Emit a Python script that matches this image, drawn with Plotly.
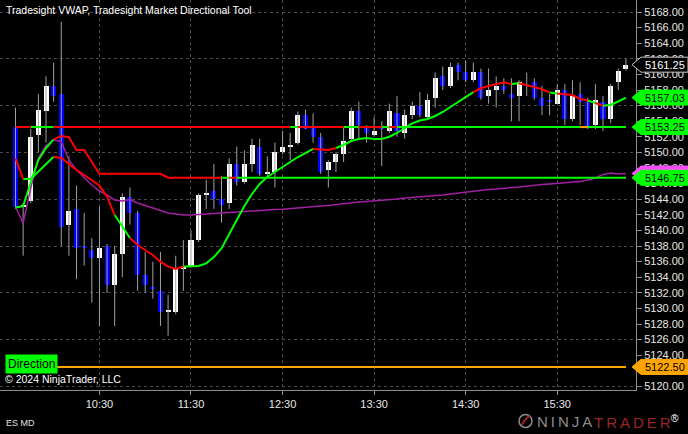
import plotly.graph_objects as go

# ---------------- data (ES 5-minute bars, 09:35 .. 16:15) ----------------
opens = [5153.25, 5143.0, 5143.75, 5152.25, 5155.25, 5158.5, 5157.5, 5140.75, 5142.75, 5138.0,
         5137.5, 5136.5, 5138.0, 5133.0, 5137.0, 5144.25, 5142.25, 5134.25, 5132.75, 5132.25,
         5129.5, 5129.5, 5135.0, 5135.5, 5138.75, 5144.5, 5145.0, 5144.0, 5143.5, 5148.5,
         5146.25, 5148.5, 5150.75, 5147.25, 5147.5, 5150.0, 5150.75, 5151.25, 5154.75, 5153.25,
         5152.0, 5147.75, 5148.75, 5149.75, 5151.75, 5155.25, 5153.25, 5152.25, 5153.25, 5152.75,
         5155.0, 5152.5, 5154.75, 5156.0, 5154.5, 5157.0, 5159.75, 5158.5, 5161.25, 5160.25,
         5159.25, 5160.25, 5157.25, 5158.0, 5158.5, 5157.5, 5157.25, 5158.75, 5159.0, 5157.0,
         5156.75, 5156.25, 5158.0, 5154.25, 5157.5, 5156.5, 5153.5, 5156.5, 5154.25, 5159.0,
         5160.75]
highs = [5155.75, 5143.5, 5153.0, 5157.5, 5159.75, 5161.5, 5166.75, 5149.5, 5145.75, 5142.25,
         5139.0, 5143.0, 5138.25, 5138.0, 5144.75, 5145.5, 5142.5, 5137.25, 5136.0, 5137.25,
         5131.75, 5136.75, 5138.75, 5140.0, 5144.75, 5146.5, 5148.5, 5147.0, 5149.25, 5150.75,
         5150.25, 5151.75, 5151.75, 5149.5, 5151.25, 5152.75, 5152.5, 5155.25, 5155.5, 5155.0,
         5152.5, 5149.0, 5150.0, 5153.25, 5155.75, 5156.5, 5153.5, 5154.5, 5154.0, 5156.25,
         5157.25, 5155.5, 5156.5, 5157.75, 5157.5, 5160.25, 5161.0, 5161.5, 5161.5, 5161.75,
         5161.5, 5160.75, 5160.75, 5159.75, 5159.5, 5159.5, 5159.25, 5160.25, 5159.5, 5158.5,
         5157.5, 5158.75, 5158.75, 5159.25, 5159.0, 5157.0, 5158.75, 5157.25, 5158.75, 5160.75,
         5162.0]
lows = [5142.75, 5136.75, 5143.5, 5150.0, 5151.25, 5156.5, 5138.0, 5136.75, 5133.75, 5135.5,
        5130.75, 5127.75, 5132.0, 5127.75, 5134.0, 5140.75, 5132.25, 5132.0, 5131.25, 5127.75,
        5126.5, 5129.25, 5132.25, 5135.25, 5138.5, 5142.75, 5142.75, 5141.0, 5142.75, 5145.75,
        5146.0, 5147.5, 5147.0, 5146.75, 5145.5, 5149.75, 5149.0, 5151.0, 5153.0, 5151.25,
        5147.25, 5145.5, 5147.5, 5148.75, 5151.5, 5151.75, 5151.25, 5152.0, 5148.25, 5152.5,
        5152.0, 5151.75, 5154.25, 5154.5, 5154.25, 5155.75, 5158.0, 5158.25, 5159.25, 5159.0,
        5159.0, 5156.75, 5156.25, 5155.75, 5157.5, 5154.0, 5154.0, 5157.25, 5156.75, 5154.75,
        5154.75, 5156.25, 5153.5, 5154.0, 5153.5, 5153.0, 5153.0, 5152.75, 5153.75, 5158.0,
        5160.5]
closes = [5143.0, 5143.25, 5152.0, 5155.5, 5158.5, 5157.25, 5140.5, 5142.5, 5137.75, 5137.75,
          5136.5, 5137.75, 5133.0, 5137.0, 5144.25, 5142.25, 5134.25, 5133.0, 5132.5, 5129.5,
          5129.75, 5135.0, 5135.25, 5138.75, 5144.5, 5144.75, 5144.0, 5143.25, 5148.5, 5146.25,
          5148.5, 5151.0, 5147.25, 5147.5, 5150.0, 5150.75, 5151.0, 5154.75, 5153.0, 5152.0,
          5147.5, 5148.75, 5149.75, 5151.5, 5155.25, 5153.5, 5152.5, 5152.75, 5153.0, 5155.25,
          5152.75, 5154.75, 5156.0, 5154.75, 5156.75, 5159.5, 5158.5, 5161.0, 5160.25, 5159.25,
          5160.25, 5157.0, 5158.0, 5158.5, 5158.0, 5157.0, 5159.0, 5158.5, 5157.0, 5156.0,
          5156.5, 5158.0, 5154.25, 5157.25, 5156.5, 5153.25, 5156.75, 5154.25, 5158.5, 5160.5,
          5161.25]

# Tradesight VWAP band (green/red curve)
vwap_band = [5149.24, 5146.59, 5146.59, 5147.55, 5148.51, 5149.45, 5149.28, 5148.51, 5147.74, 5147.10,
             5146.46, 5145.76, 5144.32, 5141.97, 5140.44, 5139.03, 5138.13, 5137.49, 5136.85, 5135.99,
             5135.35, 5135.05, 5135.37, 5135.44, 5135.44, 5135.78, 5136.59, 5137.68, 5139.41, 5141.33,
             5143.13, 5144.67, 5145.95, 5146.85, 5147.49, 5148.13, 5148.77, 5149.41, 5149.92, 5150.44,
             5150.37, 5150.31, 5150.56, 5150.95, 5151.46, 5151.72, 5151.85, 5151.72, 5151.72, 5152.01,
             5152.49, 5153.13, 5153.73, 5154.09, 5154.28, 5154.67, 5155.18, 5155.82, 5156.46, 5157.10,
             5157.74, 5158.22, 5158.51, 5158.77, 5158.99, 5158.77, 5158.86, 5158.64, 5158.38, 5158.09,
             5157.68, 5157.55, 5157.42, 5157.36, 5156.85, 5156.65, 5156.33, 5155.99, 5156.08, 5156.53,
             5157.03]

# Market Directional stop line
stop_line = [5142.94, 5143.10, 5146.21, 5149.03, 5150.56, 5151.68, 5152.10, 5151.94, 5150.31, 5150.31,
             5148.81] + [5147.25] * 9 + [5146.75] * 61

# session VWAP (purple)
vwap = [5143.00, 5140.95, 5145.44, 5149.28, 5150.88, 5151.59, 5151.40, 5149.03, 5147.74, 5146.72,
        5145.82, 5145.05, 5144.54, 5143.90, 5143.77, 5143.96, 5143.51, 5143.19, 5142.87, 5142.49,
        5142.23, 5142.10, 5141.97, 5141.97, 5142.04, 5142.10, 5142.17, 5142.23, 5142.29, 5142.36,
        5142.42, 5142.49, 5142.55, 5142.62, 5142.68, 5142.71, 5142.81, 5142.87, 5143.00, 5143.06,
        5143.13, 5143.19, 5143.32, 5143.38, 5143.51, 5143.64, 5143.71, 5143.77, 5143.83, 5143.90,
        5144.03, 5144.15, 5144.22, 5144.28, 5144.41, 5144.47, 5144.54, 5144.67, 5144.79, 5144.92,
        5145.05, 5145.18, 5145.24, 5145.31, 5145.44, 5145.50, 5145.56, 5145.69, 5145.82, 5145.88,
        5145.95, 5146.01, 5146.08, 5146.21, 5146.27, 5146.46, 5146.72, 5147.17, 5147.36, 5147.23,
        5147.29]

pivot_level = 5153.25
direction_level = 5122.50

session_start = "09:35"
bar_minutes = 5
time_tick_labels = ["10:30", "11:30", "12:30", "13:30", "14:30", "15:30"]
price_ticks = [5120 + 2 * k for k in range(25)]
grid_ticks = [5120 + 6 * k for k in range(9)]

# ---------------- figure ----------------
GREEN = "#00ff00"
RED = "#ff0000"
ORANGE = "#ffa500"
PURPLE = "#a020a0"
WICK = "#a0a0a0"
FONT = "Liberation Sans, Arial, sans-serif"

n = len(closes)
xs = list(range(n))

def to_min(s):
    h, m = s.split(":")
    return int(h) * 60 + int(m)

tick_pos = [(to_min(t) - to_min(session_start)) // bar_minutes for t in time_tick_labels]

fig = go.Figure()

# wicks
wx, wy = [], []
for i in xs:
    wx += [i, i, None]
    wy += [lows[i], highs[i], None]
fig.add_trace(go.Scatter(x=wx, y=wy, mode="lines", line=dict(color=WICK, width=1),
                         hoverinfo="skip"))

# bodies
fig.add_trace(go.Bar(
    x=xs,
    y=[abs(c - o) for o, c in zip(opens, closes)],
    base=[min(o, c) for o, c in zip(opens, closes)],
    width=0.66,
    marker=dict(color=["#ffffff" if c >= o else "#0000ff" for o, c in zip(opens, closes)],
                line=dict(width=0)),
    hoverinfo="skip"))

# purple vwap
fig.add_trace(go.Scatter(x=xs, y=vwap, mode="lines", line=dict(color=PURPLE, width=1.5),
                         hoverinfo="skip"))


def colored_line(values, width):
    def state(i):
        if closes[i] > values[i]:
            return GREEN
        if closes[i] < values[i]:
            return RED
        return ORANGE
    groups = {GREEN: ([], []), RED: ([], []), ORANGE: ([], [])}
    i = 1
    while i < n:
        col = state(i)
        j = i
        while j + 1 < n and state(j + 1) == col:
            j += 1
        gx, gy = groups[col]
        gx += list(range(i - 1, j + 1)) + [None]
        gy += list(values[i - 1:j + 1]) + [None]
        i = j + 1
    for col, (gx, gy) in groups.items():
        if gx:
            fig.add_trace(go.Scatter(x=gx, y=gy, mode="lines",
                                     line=dict(color=col, width=width),
                                     hoverinfo="skip"))


colored_line([pivot_level] * n, 2)
colored_line(stop_line, 2)
colored_line(vwap_band, 2)

# direction line
fig.add_trace(go.Scatter(x=[0, n - 1], y=[direction_level] * 2, mode="lines",
                         line=dict(color=ORANGE, width=2), hoverinfo="skip"))

# dummy trace for grid axis
fig.add_trace(go.Scatter(x=[0], y=[direction_level], yaxis="y2", mode="markers",
                         marker=dict(size=1, opacity=0), hoverinfo="skip"))

W, H = 688, 434
ML, MR, MT, MB = 0, 52, 0, 44
PW = W - ML - MR
PH = H - MT - MB
px_per_bar = 7.63
x0 = -15.5 / px_per_bar
x_range = [x0, x0 + PW / px_per_bar]
y_range = [5119.54, 5169.54]
ppp = PH / (y_range[1] - y_range[0])

shapes = []
annotations = []


def px_to_paper(px):
    return px / PW


def price_tag(v, fill, txtcol, border=None, show_text=True):
    h = 7.5 / ppp
    tip, left, right = px_to_paper(632), px_to_paper(641), px_to_paper(688)
    path = (f"M {tip},{v} L {left},{v + h} L {right},{v + h} "
            f"L {right},{v - h} L {left},{v - h} Z")
    shapes.append(dict(type="path", path=path, xref="paper", yref="y",
                       fillcolor=fill, line=dict(color=border or fill, width=1),
                       layer="above"))
    if show_text:
        annotations.append(dict(x=px_to_paper(643), y=v, xref="paper", yref="y",
                                text=f"{v:.2f}", showarrow=False, xanchor="left",
                                yanchor="middle",
                                font=dict(family=FONT, size=11, color=txtcol)))


price_tag(vwap[-1], "#ff4dff", "#000000", show_text=False)
price_tag(stop_line[-1], GREEN, "#000000")
price_tag(pivot_level, GREEN, "#000000")
price_tag(vwap_band[-1], GREEN, "#000000")
price_tag(closes[-1], "#000000", "#ffffff", border="#c8c8c8")
price_tag(direction_level, ORANGE, "#000000")

annotations += [
    dict(x=px_to_paper(4), y=1 - 10 / PH, xref="paper", yref="paper",
         text="Tradesight VWAP, Tradesight Market Directional Tool", showarrow=False,
         xanchor="left", yanchor="middle", font=dict(family=FONT, size=10.5, color="#ffffff")),
    dict(x=px_to_paper(5), y=direction_level, xref="paper", yref="y", yshift=3,
         text="Direction", showarrow=False, xanchor="left", yanchor="middle",
         bgcolor=GREEN, borderpad=2,
         font=dict(family=FONT, size=12, color="#000000")),
    dict(x=px_to_paper(3), y=(PH - 379) / PH, xref="paper", yref="paper",
         text="© 2024 NinjaTrader, LLC", showarrow=False, xanchor="left",
         yanchor="middle", font=dict(family=FONT, size=10.5, color="#ffffff")),
    dict(x=px_to_paper(4), y=(PH - 423) / PH, xref="paper", yref="paper",
         text="ES MD", showarrow=False, xanchor="left", yanchor="middle",
         font=dict(family=FONT, size=9, color="#e0e0e0")),
    dict(x=px_to_paper(535), y=(PH - 421) / PH, xref="paper", yref="paper",
         text="N\u2009I\u2009N\u2009J\u2009A", showarrow=False, xanchor="left",
         yanchor="middle", font=dict(family=FONT, size=15, color="#8c8c8c")),
    dict(x=px_to_paper(592), y=(PH - 421) / PH, xref="paper", yref="paper",
         text="T\u2009R\u2009A\u2009D\u2009E\u2009R<sup><span style='color:#ffffff'>®</span></sup>",
         showarrow=False, xanchor="left", yanchor="middle",
         font=dict(family=FONT, size=15, color="#9e2424")),
]

shapes.append(dict(type="circle", xref="paper", yref="paper",
                   x0=px_to_paper(519), x1=px_to_paper(532),
                   y0=(PH - 427.5) / PH, y1=(PH - 414.5) / PH,
                   line=dict(color="#8c8c8c", width=1.5), fillcolor="#000000"))
shapes.append(dict(type="path", xref="paper", yref="paper",
                   path=(f"M {px_to_paper(522)},{(PH - 425) / PH} "
                         f"Q {px_to_paper(525)},{(PH - 418) / PH} {px_to_paper(530)},{(PH - 416) / PH}"),
                   line=dict(color="#9e2424", width=2)))

fig.update_layout(
    width=W, height=H,
    margin=dict(l=ML, r=MR, t=MT, b=MB, autoexpand=False),
    paper_bgcolor="#000000", plot_bgcolor="#000000",
    showlegend=False, hovermode=False, bargap=0,
    font=dict(family=FONT, color="#e6e6e6", size=11),
    xaxis=dict(range=x_range, tickvals=tick_pos, ticktext=time_tick_labels,
               automargin=False,
               showgrid=True, gridcolor="#4a4a4a", griddash="dot", gridwidth=1,
               zeroline=False, showline=True, linecolor="#8c8c8c", linewidth=1,
               ticks="outside", ticklen=4, tickcolor="#8c8c8c",
               tickfont=dict(family=FONT, size=11, color="#e6e6e6")),
    yaxis=dict(range=y_range, side="right", tickvals=price_ticks,
               ticktext=[f"{v:.2f}" for v in price_ticks], automargin=False,
               showgrid=False, zeroline=False, showline=True, linecolor="#8c8c8c",
               linewidth=1, ticks="outside", ticklen=5, tickcolor="#8c8c8c",
               tickfont=dict(family=FONT, size=11, color="#e6e6e6")),
    yaxis2=dict(range=y_range, overlaying="y", side="right", tickvals=grid_ticks,
                automargin=False,
                showticklabels=False, showgrid=True, gridcolor="#4a4a4a",
                griddash="dot", gridwidth=1, zeroline=False, showline=False, ticks=""),
    shapes=shapes,
    annotations=annotations,
)

fig.write_html("out.html",
               config={"displayModeBar": False, "staticPlot": True},
               post_script="document.body.style.margin='0px';"
                           "document.body.style.background='#000000';")
